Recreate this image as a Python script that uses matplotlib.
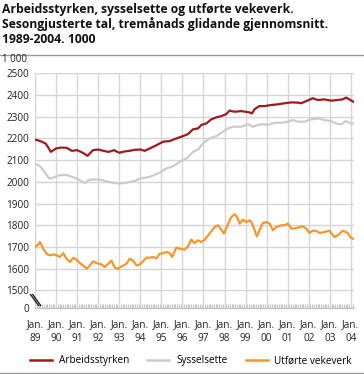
import matplotlib
matplotlib.use("Agg")
import matplotlib.pyplot as plt
import numpy as np
from matplotlib.lines import Line2D

plt.rcParams['font.family'] = ['Open Sans', 'DejaVu Sans']

# ---- data (decimal years, values in 1000) ----
arb_t = [0, 0.25, 0.5, 0.62, 0.75, 1.0, 1.25, 1.5, 1.75, 2.0, 2.25, 2.5, 2.75, 3.0, 3.25, 3.5,
         3.75, 4.0, 4.25, 4.5, 4.75, 5.0, 5.21, 5.45, 5.77, 6.08, 6.4, 6.71, 7.03, 7.27, 7.5,
         7.74, 7.9, 8.14, 8.37, 8.61, 8.85, 9.08, 9.24, 9.47, 9.79, 10.19, 10.3, 10.43, 10.66,
         10.9, 11.22, 11.53, 11.85, 12.17, 12.48, 12.64, 12.88, 13.19, 13.43, 13.74, 14.06,
         14.37, 14.61, 14.77, 14.93, 15.12]
arb_v = [2195, 2188, 2177, 2160, 2138, 2154, 2158, 2157, 2143, 2146, 2135, 2120, 2146, 2149,
         2143, 2138, 2146, 2134, 2140, 2143, 2148, 2149, 2143, 2154, 2169, 2185, 2188, 2200,
         2211, 2220, 2242, 2246, 2262, 2269, 2288, 2297, 2303, 2312, 2328, 2323, 2326, 2320,
         2315, 2335, 2349, 2349, 2354, 2357, 2362, 2366, 2365, 2362, 2372, 2385, 2377, 2380,
         2374, 2377, 2380, 2388, 2380, 2369]

sys_t = [0, 0.25, 0.51, 0.68, 0.87, 1.18, 1.5, 1.75, 2.0, 2.24, 2.4, 2.53, 2.76, 3.08, 3.48,
         3.95, 4.27, 4.5, 4.75, 4.98, 5.45, 5.92, 6.24, 6.56, 6.87, 7.19, 7.5, 7.74, 7.98,
         8.29, 8.61, 8.93, 9.16, 9.4, 9.79, 10.11, 10.35, 10.59, 10.82, 11.06, 11.37, 11.69,
         12.01, 12.24, 12.48, 12.8, 13.11, 13.43, 13.74, 14.06, 14.3, 14.53, 14.77, 15.01, 15.12]
sys_v = [2085, 2072, 2038, 2015, 2020, 2031, 2032, 2023, 2015, 2000, 1995, 2008, 2011, 2011,
         2000, 1992, 1995, 2000, 2005, 2015, 2023, 2042, 2062, 2072, 2092, 2108, 2138, 2149,
         2177, 2200, 2211, 2231, 2246, 2254, 2254, 2266, 2254, 2262, 2266, 2262, 2272, 2272,
         2277, 2285, 2277, 2277, 2288, 2292, 2285, 2280, 2269, 2265, 2280, 2269, 2269]

vek_t = [0, 0.11, 0.24, 0.39, 0.55, 0.71, 0.87, 1.03, 1.18, 1.34, 1.5, 1.66, 1.82, 1.97, 2.13,
         2.29, 2.45, 2.61, 2.76, 2.92, 3.16, 3.32, 3.48, 3.63, 3.79, 3.95, 4.11, 4.34, 4.5,
         4.66, 4.82, 4.98, 5.13, 5.29, 5.45, 5.61, 5.77, 5.92, 6.08, 6.24, 6.4, 6.52, 6.71,
         6.87, 7.11, 7.27, 7.42, 7.58, 7.74, 7.9, 8.06, 8.29, 8.53, 8.69, 8.85, 8.97, 9.11,
         9.32, 9.48, 9.6, 9.72, 9.87, 10.03, 10.19, 10.3, 10.43, 10.54, 10.66, 10.82, 10.98,
         11.14, 11.3, 11.45, 11.69, 11.85, 12.01, 12.17, 12.32, 12.56, 12.72, 12.88, 13.03,
         13.19, 13.35, 13.51, 13.74, 13.98, 14.22, 14.38, 14.61, 14.85, 15.01, 15.12]
vek_v = [1700, 1708, 1723, 1692, 1669, 1662, 1666, 1662, 1654, 1672, 1646, 1631, 1651, 1642,
         1626, 1615, 1600, 1615, 1634, 1626, 1620, 1608, 1623, 1638, 1605, 1600, 1611, 1623,
         1646, 1638, 1615, 1620, 1634, 1651, 1651, 1654, 1648, 1669, 1672, 1677, 1672, 1654,
         1697, 1692, 1688, 1703, 1734, 1718, 1731, 1723, 1734, 1762, 1792, 1800, 1780, 1762,
         1792, 1838, 1851, 1838, 1808, 1826, 1815, 1823, 1811, 1777, 1749, 1777, 1811, 1815,
         1808, 1777, 1792, 1800, 1800, 1808, 1785, 1785, 1792, 1795, 1785, 1765, 1775, 1775,
         1765, 1769, 1775, 1746, 1754, 1775, 1765, 1742, 1738]

start_year = 1989
years = list(range(1989, 2005))
year_labels = ["Jan.\n" + str(y)[2:] for y in years]
y_ticks = [1500, 1600, 1700, 1800, 1900, 2000, 2100, 2200, 2300, 2400, 2500]
series_names = ["Arbeidsstyrken", "Sysselsette", "Utførte vekeverk"]
colors = ["#9e1b1b", "#cccccc", "#f7962a"]
title = ("Arbeidsstyrken, sysselsette og utførte vekeverk.\n"
         "Sesongjusterte tal, tremånads glidande gjennomsnitt.\n"
         "1989-2004. 1000")

# ---- figure ----
W, H = 364, 374
fig = plt.figure(figsize=(W / 100, H / 100), dpi=100)
ax_l, ax_r, ax_top, ax_bot = 35, 354, 73.3, 307.7
ax = fig.add_axes([ax_l / W, 1 - ax_bot / H, (ax_r - ax_l) / W, (ax_bot - ax_top) / H])

y_zero = 1420.6  # position of the "0" baseline on the broken axis
ax.set_ylim(y_zero, 2500)
ax.set_xlim(start_year, start_year + 15.15)

grid_c = "#d6d6d6"
for y in y_ticks:
    ax.axhline(y, color=grid_c, lw=1.0, zorder=1)
for yr in years:
    ax.axvline(yr, color=grid_c, lw=1.0, zorder=1)

for t, v, c in [(sys_t, sys_v, colors[1]), (arb_t, arb_v, colors[0]), (vek_t, vek_v, colors[2])]:
    ax.plot([start_year + x for x in t], v, color=c, lw=1.6, zorder=3,
            solid_joinstyle='round')

for s in ["top", "right"]:
    ax.spines[s].set_visible(False)
ax.spines["left"].set_color(grid_c)
ax.spines["bottom"].set_color("#c4c4c4")
ax.spines["bottom"].set_linewidth(1.0)

ax.set_yticks([y_zero] + y_ticks)
ax.set_yticklabels(["0"] + [str(y) for y in y_ticks], fontsize=7.2, color="#222222")
ax.tick_params(axis='y', length=0, pad=4)

ax.set_xticks(years)
ax.set_xticklabels(year_labels, fontsize=7.2, color="#222222", linespacing=1.3)
ax.tick_params(axis='x', length=0, pad=8.5)
months = [start_year + m / 12 for m in range(0, 15 * 12 + 2)]
ax.set_xticks(months, minor=True)
ax.tick_params(axis='x', which='minor', direction='in', length=3, color="#c4c4c4", width=0.8)

# axis break marker
for dx in (0, 2.2):
    ax.add_line(Line2D([(30.5 + dx - ax_l) / (ax_r - ax_l), (38.5 + dx - ax_l) / (ax_r - ax_l)],
                       [(ax_bot - 294.5) / (ax_bot - ax_top), (ax_bot - 305.5) / (ax_bot - ax_top)],
                       transform=ax.transAxes, color="#111111", lw=0.9, clip_on=False, zorder=5))

# title and unit
fig.text(2 / W, 1 - 3 / H, title, fontsize=8.75, fontweight='bold', va='top', ha='left',
         linespacing=1.13, color="#111111")
fig.add_artist(Line2D([0, 1], [1 - 55 / H, 1 - 55 / H], color="#9a9a9a", lw=1.0))
fig.add_artist(Line2D([0, 1], [1 - 372.5 / H, 1 - 372.5 / H], color="#9a9a9a", lw=1.0))
fig.text(2 / W, 1 - 59.5 / H, "1 000", fontsize=7, va='center', ha='left', color="#222222")

handles = [Line2D([], [], color=c, lw=1.8) for c in colors]
fig.legend(handles, series_names, loc='center', bbox_to_anchor=(191 / W, 1 - 361 / H), ncol=3,
           frameon=False, fontsize=7.2, handlelength=2.2, handletextpad=0.7, columnspacing=1.8,
           borderaxespad=0, borderpad=0)

fig.savefig("out.png", dpi=100)
